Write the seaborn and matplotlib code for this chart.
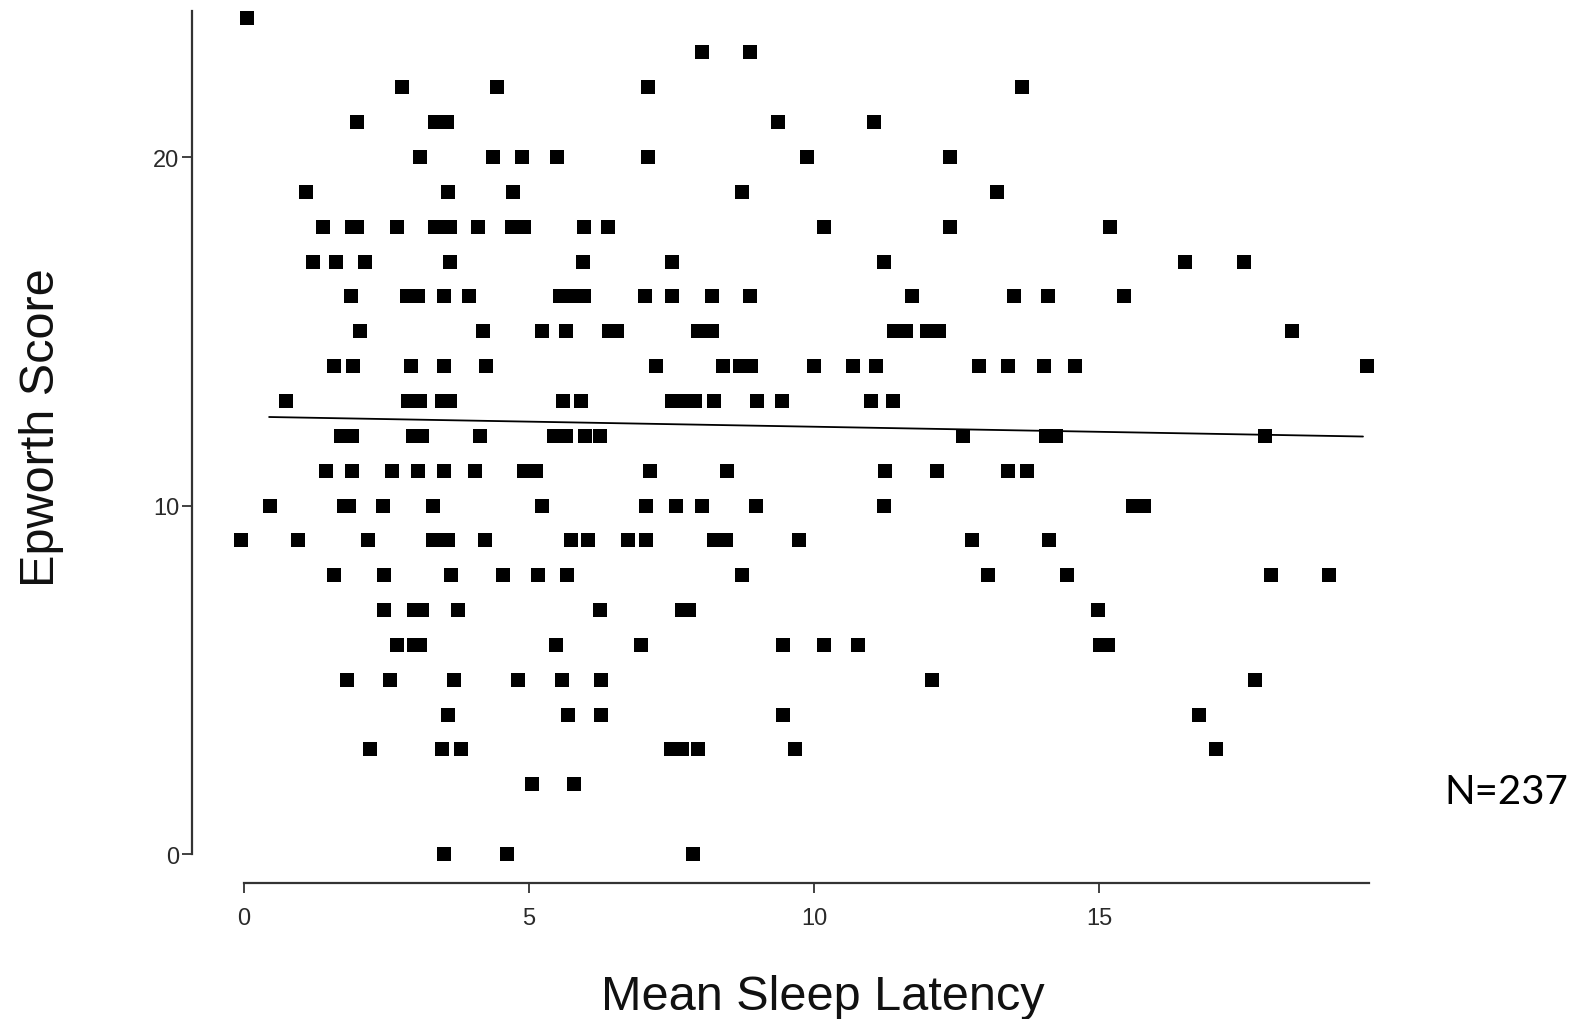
import matplotlib
matplotlib.use("Agg")
import matplotlib.pyplot as plt
import seaborn as sns
import pandas as pd

# ---- data (Epworth score rows, mean sleep latency values) ----
score_24 = [0.05]
score_23 = [8.03, 8.88]
score_22 = [2.77, 4.43, 7.08, 13.65]
score_21 = [1.98, 3.35, 3.56, 9.37, 11.05]
score_20 = [3.09, 4.37, 4.88, 5.49, 7.08, 9.87, 12.39]
score_19 = [1.08, 3.58, 4.71, 8.73, 13.21]
score_18 = [1.39, 1.89, 1.99, 2.68, 3.35, 3.50, 3.62, 4.11, 4.70, 4.91, 5.97, 6.39, 10.18, 12.39, 15.19]
score_17 = [1.21, 1.62, 2.12, 3.61, 5.94, 7.50, 11.22, 16.50, 17.55]
score_16 = [1.87, 2.86, 3.06, 3.51, 3.94, 5.54, 5.76, 5.97, 7.03, 7.50, 8.21, 8.88, 11.72, 13.50, 14.11, 15.44]
score_15 = [2.04, 4.20, 5.22, 5.64, 6.41, 6.55, 7.97, 8.09, 8.21, 11.41, 11.61, 11.98, 12.20, 18.38]
score_14 = [1.58, 1.92, 2.93, 3.51, 4.24, 7.22, 8.40, 8.70, 8.90, 10.00, 10.68, 11.09, 12.90, 13.40, 14.04, 14.58, 19.70]
score_13 = [0.74, 2.88, 3.09, 3.47, 3.61, 5.60, 5.91, 7.50, 7.71, 7.91, 8.25, 9.00, 9.43, 11.00, 11.38]
score_12 = [1.70, 1.90, 2.97, 3.13, 4.14, 5.43, 5.64, 5.98, 6.25, 12.62, 14.07, 14.25, 17.91]
score_11 = [1.44, 1.90, 2.60, 3.06, 3.51, 4.05, 4.91, 5.12, 7.12, 8.47, 11.25, 12.16, 13.41, 13.74]
score_10 = [0.46, 1.75, 1.85, 2.43, 3.32, 5.22, 7.05, 7.57, 8.03, 8.98, 11.23, 15.59, 15.78]
score_9 = [-0.06, 0.94, 2.17, 3.32, 3.44, 3.57, 4.23, 5.74, 6.04, 6.74, 7.05, 8.24, 8.45, 9.74, 12.77, 14.12]
score_8 = [1.57, 2.46, 3.63, 4.54, 5.16, 5.66, 8.74, 13.06, 14.43, 18.02, 19.04]
score_7 = [2.46, 2.99, 3.13, 3.76, 6.24, 7.68, 7.80, 14.99]
score_6 = [2.68, 2.98, 3.09, 5.47, 6.96, 9.46, 10.17, 10.77, 15.02, 15.15]
score_5 = [1.80, 2.56, 3.68, 4.81, 5.58, 6.26, 12.07, 17.74]
score_4 = [3.57, 5.68, 6.26, 9.46, 16.75]
score_3 = [2.21, 3.47, 3.80, 7.49, 7.68, 7.97, 9.67, 17.06]
score_2 = [5.06, 5.79]
score_0 = [3.50, 4.61, 7.87]

rows = {24: score_24, 23: score_23, 22: score_22, 21: score_21, 20: score_20,
        19: score_19, 18: score_18, 17: score_17, 16: score_16, 15: score_15,
        14: score_14, 13: score_13, 12: score_12, 11: score_11, 10: score_10,
        9: score_9, 8: score_8, 7: score_7, 6: score_6, 5: score_5, 4: score_4,
        3: score_3, 2: score_2, 0: score_0}

# regression line as drawn in the chart
fit_latency = [0.44, 19.63]
fit_epworth = [12.54, 11.98]

x_ticks = [0, 5, 10, 15]
y_ticks = [0, 10, 20]
x_label = "Mean Sleep Latency"
y_label = "Epworth Score"
n_label = "N=237"

latency, epworth = [], []
for sc, xs in rows.items():
    latency.extend(xs)
    epworth.extend([sc] * len(xs))
df = pd.DataFrame({"latency": latency, "epworth": epworth})
fit_df = pd.DataFrame({"latency": fit_latency, "epworth": fit_epworth})

sns.set_style("ticks")
plt.rcParams["font.family"] = ["Liberation Sans", "DejaVu Sans"]

fig = plt.figure(figsize=(15.78, 10.2), dpi=100)
ax = fig.add_axes([0.1217, 0.1334, 0.7518, 0.8637])

sns.scatterplot(data=df, x="latency", y="epworth", marker="s", s=92,
                color="black", linewidth=0, ax=ax, zorder=3)
sns.lineplot(data=fit_df, x="latency", y="epworth", color="black",
             linewidth=1.3, ax=ax, zorder=2)

ax.set_xlim(-0.912, 19.9)
ax.set_ylim(-0.83, 24.45)
ax.set_xticks(x_ticks)
ax.set_yticks(y_ticks)
ax.set_xticklabels([str(t) for t in x_ticks])
ax.set_yticklabels([str(t) for t in y_ticks])
ax.tick_params(axis="x", length=7, width=1.3, pad=10, labelsize=17,
               colors="#333333", labelcolor="#2a2a2a")
ax.tick_params(axis="y", length=7, width=1.3, pad=2, labelsize=17,
               colors="#333333", labelcolor="#2a2a2a")

for s in ["top", "right"]:
    ax.spines[s].set_visible(False)
ax.spines["left"].set_bounds(0, 24.2)
ax.spines["bottom"].set_bounds(0, 19.74)
for s in ["left", "bottom"]:
    ax.spines[s].set_linewidth(1.6)
    ax.spines[s].set_color("#333333")

ax.set_xlabel("")
ax.set_ylabel("")
fig.text(823 / 1578, 1 - 998 / 1020, x_label, fontsize=35, ha="center",
         va="center", color="#111111")
fig.text(42 / 1578, 1 - 428 / 1020, y_label, fontsize=35, ha="center",
         va="center", rotation=90, color="#111111")
fig.text(1444 / 1578, 1 - 792 / 1020, n_label, fontsize=29, ha="left",
         va="center", family=["Lato", "DejaVu Sans"], color="black")

fig.savefig("out.png", dpi=100, facecolor="white")
